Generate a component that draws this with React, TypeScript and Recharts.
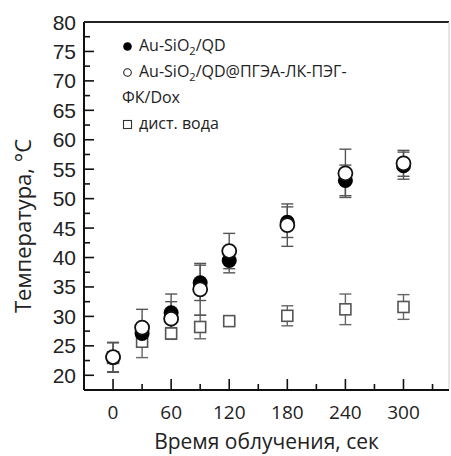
import React from "react";
import {
  ScatterChart,
  Scatter,
  XAxis,
  YAxis,
  ErrorBar,
  ReferenceLine,
  Legend,
} from "recharts";

const times = [0, 30, 60, 90, 120, 180, 240, 300];
const auQd = [23, 27.1, 30.6, 35.7, 39.5, 46, 53.1, 55.6];
const auQdErr = [2.5, 1.5, 3.2, 3, 2.1, 2.6, 2.6, 2.3];
const auQdDox = [23.1, 28.1, 29.6, 34.6, 41.1, 45.5, 54.3, 56];
const auQdDoxErr = [2.5, 3.1, 2.9, 4.4, 3, 3.6, 4.1, 2.2];
const water = [23, 25.7, 27.1, 28.2, 29.2, 30.1, 31.2, 31.6];
const waterErr = [1, 2.7, 1, 2, 0.5, 1.7, 2.6, 2.1];

const xTicks = [0, 30, 60, 90, 120, 150, 180, 210, 240, 270, 300, 330];
const yTicks = [
  20, 22.5, 25, 27.5, 30, 32.5, 35, 37.5, 40, 42.5, 45, 47.5, 50, 52.5, 55,
  57.5, 60, 62.5, 65, 67.5, 70, 72.5, 75, 77.5, 80,
];

const mk = (vals: number[], errs: number[]) =>
  times.map((t, i) => ({ t, v: vals[i], e: errs[i] }));

const titleFont = "'Open Sans', 'Noto Sans', sans-serif";

const YTick = (props: any) => {
  const { x, y, payload } = props;
  const v = payload.value;
  const major = v % 5 === 0;
  return (
    <g>
      {v < 80 && (
        <line x1={x} x2={x + (major ? 10 : 6)} y1={y} y2={y} stroke="#111" strokeWidth={1.6} />
      )}
      {major && (
        <text
          x={x - 8}
          y={y + 7.5}
          textAnchor="end"
          fontFamily="'Liberation Sans', Arial, sans-serif"
          fontSize={21}
          fill="#222"
        >
          {v}
        </text>
      )}
    </g>
  );
};

const XTick = (props: any) => {
  const { x, y, payload } = props;
  const v = payload.value;
  const major = v % 60 === 0;
  return (
    <g>
      <line x1={x} x2={x} y1={y} y2={y - (major ? 11 : 6)} stroke="#111" strokeWidth={1.6} />
      {major && (
        <text x={x} y={y + 29} textAnchor="middle" fontFamily={titleFont} fontSize={19} fill="#222">
          {v}
        </text>
      )}
    </g>
  );
};

const YTitle = (props: any) => {
  const { viewBox } = props;
  const cx = viewBox.x + 22;
  const cy = viewBox.y + viewBox.height / 2 + 20;
  return (
    <text
      x={cx}
      y={cy}
      transform={`rotate(-90 ${cx} ${cy})`}
      textAnchor="middle"
      dominantBaseline="central"
      fontFamily={titleFont}
      fontSize={22}
      fill="#222"
    >
      Температура, °C
    </text>
  );
};

const XTitle = (props: any) => {
  const { viewBox } = props;
  return (
    <text
      x={viewBox.x + viewBox.width / 2}
      y={viewBox.y + 59}
      textAnchor="middle"
      fontFamily={titleFont}
      fontSize={21}
      fill="#222"
    >
      Время облучения, сек
    </text>
  );
};

const Sub = ({ children }: { children: React.ReactNode }) => (
  <span style={{ fontSize: 11, position: "relative", top: 4, lineHeight: 0 }}>{children}</span>
);

const Mark = ({ kind }: { kind: "dot" | "ring" | "square" }) => (
  <svg width={11} height={11} style={{ marginRight: 6, verticalAlign: "-1px" }}>
    {kind === "dot" && <circle cx={5.5} cy={5.5} r={4.3} fill="#000" />}
    {kind === "ring" && <circle cx={5.5} cy={5.5} r={3.8} fill="#fff" stroke="#222" strokeWidth={1.1} />}
    {kind === "square" && <rect x={1.5} y={1.5} width={8} height={8} fill="#fff" stroke="#333" strokeWidth={1.1} />}
  </svg>
);

const LegendBox = () => (
  <div style={{ fontFamily: titleFont, fontSize: 16, lineHeight: "26px", color: "#222", textAlign: "left" }}>
    <div>
      <Mark kind="dot" />
      Au-SiO<Sub>2</Sub>/QD
    </div>
    <div>
      <Mark kind="ring" />
      Au-SiO<Sub>2</Sub>/QD@ПГЭА-ЛК-ПЭГ-
    </div>
    <div>ФК/Dox</div>
    <div>
      <Mark kind="square" />
      дист. вода
    </div>
  </div>
);

export default function App() {
  return (
    <div style={{ position: "absolute", left: 0, top: 0 }}>
      <ScatterChart width={451} height={456} margin={{ top: 22, right: 2, left: 0, bottom: 0 }}>
        <XAxis
          type="number"
          dataKey="t"
          domain={[-30, 347]}
          ticks={xTicks}
          interval={0}
          tick={<XTick />}
          tickLine={false}
          tickSize={0}
          tickMargin={0}
          axisLine={{ stroke: "#111", strokeWidth: 2 }}
          height={66}
          allowDataOverflow
          label={<XTitle />}
        />
        <YAxis
          type="number"
          dataKey="v"
          domain={[17.5, 80]}
          ticks={yTicks}
          interval={0}
          tick={<YTick />}
          tickLine={false}
          tickSize={0}
          tickMargin={0}
          axisLine={{ stroke: "#111", strokeWidth: 2 }}
          width={84}
          allowDataOverflow
          label={<YTitle />}
        />
        <ReferenceLine y={80} stroke="#222" strokeWidth={2} />
        <ReferenceLine x={347} stroke="#ccc" strokeWidth={1} />
        <Legend
          layout="horizontal"
          verticalAlign="middle"
          align="center"
          content={<LegendBox />}
          wrapperStyle={{ top: 32, left: 122, width: 300, height: 110 }}
        />
        <Scatter
          name="дист. вода"
          data={mk(water, waterErr)}
          isAnimationActive={false}
          shape={(p: any) => (
            <rect x={p.cx - 5.5} y={p.cy - 5.5} width={11} height={11} fill="#fff" stroke="#555" strokeWidth={1.6} />
          )}
        >
          <ErrorBar dataKey="e" direction="y" width={6} stroke="#666" strokeWidth={1.4} />
        </Scatter>
        <Scatter
          name="Au-SiO2/QD"
          data={mk(auQd, auQdErr)}
          isAnimationActive={false}
          shape={(p: any) => <circle cx={p.cx} cy={p.cy} r={7.5} fill="#000" />}
        >
          <ErrorBar dataKey="e" direction="y" width={6} stroke="#555" strokeWidth={1.4} />
        </Scatter>
        <Scatter
          name="Au-SiO2/QD@ПГЭА-ЛК-ПЭГ-ФК/Dox"
          data={mk(auQdDox, auQdDoxErr)}
          isAnimationActive={false}
          shape={(p: any) => (
            <circle cx={p.cx} cy={p.cy} r={7} fill="#fff" stroke="#111" strokeWidth={1.8} />
          )}
        >
          <ErrorBar dataKey="e" direction="y" width={6} stroke="#555" strokeWidth={1.4} />
        </Scatter>
      </ScatterChart>
    </div>
  );
}
